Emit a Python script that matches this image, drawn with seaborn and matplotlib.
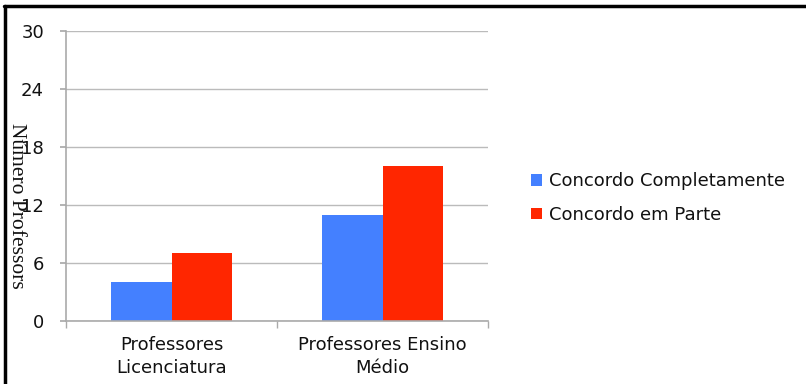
import matplotlib
matplotlib.use("Agg")
import matplotlib.pyplot as plt
import seaborn as sns
import pandas as pd
from matplotlib.lines import Line2D

categories = ["Professores\nLicenciatura", "Professores Ensino\nMédio"]
series_names = ["Concordo Completamente", "Concordo em Parte"]
completamente = [4, 11]
em_parte = [7, 16]
yticks = [0, 6, 12, 18, 24, 30]
colors = ["#4480FF", "#FF2600"]

df = pd.DataFrame({
    "cat": categories * 2,
    "serie": [series_names[0]] * 2 + [series_names[1]] * 2,
    "val": completamente + em_parte,
})

sns.set_theme(style="white")
plt.rcParams["font.family"] = ["DejaVu Sans"]
plt.rcParams["text.color"] = "#111111"
plt.rcParams["xtick.labelcolor"] = "#111111"
plt.rcParams["ytick.labelcolor"] = "#111111"

fig = plt.figure(figsize=(8.06, 3.84), dpi=100)
ax = fig.add_axes([66/806, 1 - 321/384, (488-66)/806, (321-31)/384])

sns.barplot(data=df, x="cat", y="val", hue="serie", palette=colors,
            width=0.57, saturation=1, ax=ax, edgecolor="none", linewidth=0)

ax.set_ylim(0, 30)
ax.set_xlim(-0.5, 1.5)
ax.set_yticks(yticks)
ax.set_yticklabels([str(t) for t in yticks], fontsize=13)
ax.yaxis.grid(True, color="#BBBBBB", linewidth=1)
ax.set_axisbelow(True)
for s in ["top", "right"]:
    ax.spines[s].set_visible(False)
for s in ["left", "bottom"]:
    ax.spines[s].set_color("#AAAAAA")
    ax.spines[s].set_linewidth(1.2)

ax.tick_params(axis="y", which="major", left=True, length=4.3, color="#AAAAAA", pad=11.5)
ax.tick_params(axis="x", which="major", bottom=False, pad=5, labelsize=13)
ax.set_xticks([-0.5, 0.5, 1.5], minor=True)
ax.tick_params(axis="x", which="minor", bottom=True, length=5, color="#AAAAAA")
ax.set_xlabel("")
ax.set_ylabel("")
for lbl in ax.get_xticklabels():
    lbl.set_linespacing(1.35)

fig.text(16/806, 1 - 206/384, "Número Professors", rotation=270,
         ha="center", va="center", fontsize=15.5, family=["Liberation Serif"])

leg = ax.legend(loc="center left", bbox_to_anchor=(515/806, 1 - 198/384),
                bbox_transform=fig.transFigure, frameon=False, fontsize=13,
                handlelength=0.6, handleheight=0.6, handletextpad=0.4,
                labelspacing=0.85)

fig.add_artist(Line2D([4/806, 1], [1 - 6/384, 1 - 6/384], color="black", linewidth=2.5,
                      transform=fig.transFigure))
fig.add_artist(Line2D([5/806, 5/806], [0, 1 - 6/384], color="black", linewidth=2.5,
                      transform=fig.transFigure))

fig.savefig("out.png", dpi=100)
